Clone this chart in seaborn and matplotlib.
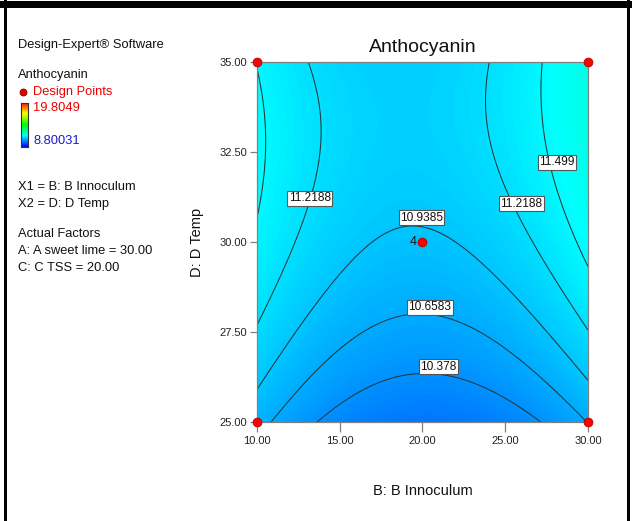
import numpy as np
import matplotlib
matplotlib.use("Agg")
import matplotlib.pyplot as plt
from matplotlib.colors import LinearSegmentedColormap
from matplotlib.lines import Line2D
from matplotlib.patches import Rectangle
import pandas as pd
import seaborn as sns

# Quadratic response model for Anthocyanin in coded units
# (B = Innoculum, D = Temp; A and C held at their actual values)
coef_names = ["Intercept", "B", "D", "BD", "B^2", "D^2"]
coef_values = [10.901, 0.0647, 0.475, 0.113, 0.62, -0.33]

b_range = [10.0, 30.0]
d_range = [25.0, 35.0]
response_min = 8.80031
response_max = 19.8049

# Contour levels and where their labels sit
contour_levels = [10.378, 10.6583, 10.9385, 11.2188, 11.499]
label_levels = [10.378, 10.6583, 10.9385, 11.2188, 11.2188, 11.499]
label_b = [20.97, 20.45, 19.94, 13.20, 25.98, 28.13]
label_d = [26.53, 28.19, 30.67, 31.22, 31.06, 32.22]

# Design points on this slice (the centre point is replicated)
design_b = [10.0, 10.0, 30.0, 30.0, 20.0]
design_d = [25.0, 35.0, 25.0, 35.0, 30.0]
design_reps = [1, 1, 1, 1, 4]

x_ticks = [10.0, 15.0, 20.0, 25.0, 30.0]
y_ticks = [25.0, 27.5, 30.0, 32.5, 35.0]

sns.set_theme(style="white")
plt.rcParams["font.family"] = ["Liberation Sans", "DejaVu Sans"]

W, H = 632, 521
fig = plt.figure(figsize=(W / 100, H / 100), dpi=100)
fig.patch.set_facecolor("white")


def fx(px):
    return px / W


def fy(py):
    return 1 - py / H


de_cmap = LinearSegmentedColormap.from_list(
    "design_expert",
    [(0.0, (0, 0, 1)), (0.25, (0, 1, 1)), (0.5, (0, 1, 0)),
     (0.75, (1, 1, 0)), (1.0, (1, 0, 0))])

ax = fig.add_axes([fx(257), fy(422), fx(588) - fx(257), fy(62) - fy(422)])

# Evaluate the model on a grid
B = np.linspace(b_range[0], b_range[1], 241)
D = np.linspace(d_range[0], d_range[1], 241)
BB, DD = np.meshgrid(B, D)
x1 = (BB - np.mean(b_range)) / ((b_range[1] - b_range[0]) / 2)
x2 = (DD - np.mean(d_range)) / ((d_range[1] - d_range[0]) / 2)
c = dict(zip(coef_names, coef_values))
Z = (c["Intercept"] + c["B"] * x1 + c["D"] * x2 + c["BD"] * x1 * x2
     + c["B^2"] * x1 ** 2 + c["D^2"] * x2 ** 2)

ax.imshow(Z, extent=[b_range[0], b_range[1], d_range[0], d_range[1]],
          origin="lower", aspect="auto", cmap=de_cmap,
          vmin=response_min, vmax=response_max, interpolation="bilinear",
          zorder=0)
ax.contour(BB, DD, Z, levels=contour_levels, colors="#233838",
           linewidths=0.75, zorder=1)

for lev, lb, ld in zip(label_levels, label_b, label_d):
    ax.text(lb, ld, f"{lev:g}", fontsize=8.6, ha="center", va="center",
            color="#111111", zorder=3,
            bbox=dict(boxstyle="square,pad=0.12", facecolor="white",
                      edgecolor="#555555", linewidth=0.8))

pts = pd.DataFrame({"B": design_b, "D": design_d, "reps": design_reps})
sns.scatterplot(data=pts, x="B", y="D", ax=ax, color="#ff0000", s=40,
                edgecolor="#b00000", linewidth=0.6, clip_on=False,
                zorder=5, legend=False)
for _, r in pts.iterrows():
    if r["reps"] > 1:
        ax.text(r["B"] - 0.35, r["D"], f"{int(r['reps'])}", fontsize=9,
                ha="right", va="center", color="#111111", zorder=5)

ax.set_xlim(b_range)
ax.set_ylim(d_range)
ax.set_xticks(x_ticks)
ax.set_yticks(y_ticks)
ax.set_xticklabels([f"{t:.2f}" for t in x_ticks])
ax.set_yticklabels([f"{t:.2f}" for t in y_ticks])
ax.tick_params(axis="x", direction="out", length=7.5, width=0.9,
               color="#808080", labelsize=8, pad=2.5, labelcolor="#222222",
               bottom=True)
ax.tick_params(axis="y", direction="out", length=5, width=0.9,
               color="#808080", labelsize=8, pad=2, labelcolor="#222222",
               left=True)
for sp in ax.spines.values():
    sp.set_color("#808080")
    sp.set_linewidth(0.9)

ax.set_xlabel("B: B Innoculum", fontsize=10.5, color="#111111")
ax.set_ylabel("D: D Temp", fontsize=10.5, color="#111111")
ax.xaxis.set_label_coords(0.5, -(491 - 422) / 360)
ax.xaxis.label.set_va("center")
ax.yaxis.set_label_coords((197 - 257) / 331, 0.5)
ax.yaxis.label.set_va("center")
ax.text(0.5, 1 + 15 / 360, "Anthocyanin", transform=ax.transAxes,
        fontsize=14, ha="center", va="center", color="#111111")

# Side panel
side = [
    ("Design-Expert\u00ae Software", 18, 45, "#111111"),
    ("Anthocyanin", 18, 75, "#111111"),
    ("Design Points", 33, 92, "#ee0000"),
    (f"{response_max:g}", 33, 108, "#ee0000"),
    (f"{response_min:g}", 33, 141, "#1a1acc"),
    ("X1 = B: B Innoculum", 18, 187, "#111111"),
    ("X2 = D: D Temp", 18, 204, "#111111"),
    ("Actual Factors", 18, 234, "#111111"),
    ("A: A sweet lime = 30.00", 18, 251, "#111111"),
    ("C: C TSS = 20.00", 18, 268, "#111111"),
]
for txt, px, py, col in side:
    fig.text(fx(px), fy(py), txt, fontsize=9.3, ha="left", va="center",
             color=col)

fig.add_artist(Line2D([fx(23)], [fy(92)], marker="o", markersize=5,
                      color="#dd0000", markeredgecolor="#800000",
                      markeredgewidth=0.6, transform=fig.transFigure))

cax = fig.add_axes([fx(21), fy(147), fx(28) - fx(21), fy(103) - fy(147)])
cax.imshow(np.linspace(0, 1, 200)[:, None], origin="lower", aspect="auto",
           cmap=de_cmap)
cax.set_xticks([])
cax.set_yticks([])
for sp in cax.spines.values():
    sp.set_color("#333333")
    sp.set_linewidth(0.8)

# Frame around the figure
fig.add_artist(Rectangle((0, fy(8)), 1, fy(1) - fy(8), transform=fig.transFigure,
                         facecolor="black", edgecolor="none"))
fig.add_artist(Rectangle((fx(4), 0), fx(3), 1, transform=fig.transFigure,
                         facecolor="black", edgecolor="none"))
fig.add_artist(Rectangle((fx(627), 0), fx(3), 1, transform=fig.transFigure,
                         facecolor="black", edgecolor="none"))

fig.savefig("out.png", dpi=100)
